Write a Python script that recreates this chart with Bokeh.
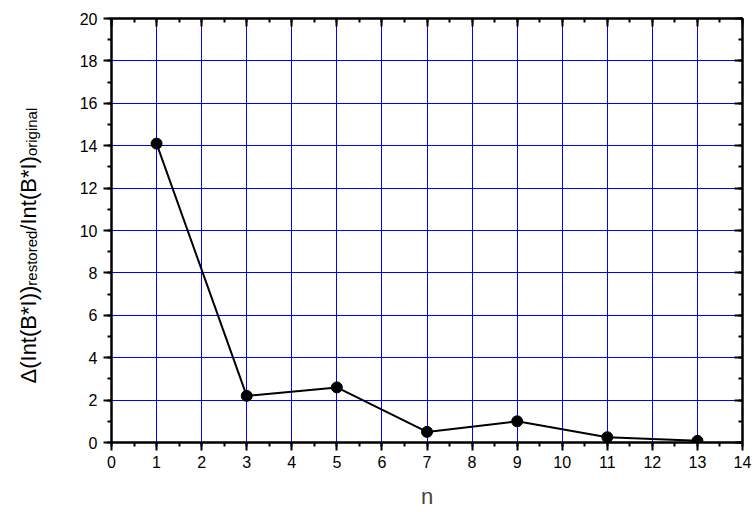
import math
from bokeh.plotting import figure
from bokeh.layouts import row
from bokeh.models import (Range1d, LinearAxis, SingleIntervalTicker, Grid,
                          CustomJSTickFormatter)
from bokeh.core.properties import value
from bokeh.embed import file_html
from bokeh.resources import INLINE

# restoration error vs. harmonic order n
n_values = [1, 3, 5, 7, 9, 11, 13]
delta_ratio = [14.1, 2.2, 2.6, 0.5, 1.0, 0.25, 0.08]

x_ticks_interval = 1
y_ticks_interval = 2

FONT = "Liberation Sans, Arial, sans-serif"
W, H = 756, 512
TITLE_W = 45                      # strip holding the rotated y title
LEFT, RIGHT, TOP, BOTTOM = 111 - TITLE_W, 14, 18, 70
X0, X1, Y0, Y1 = 0, 14, 0, 20

p = figure(width=W - TITLE_W, height=H, output_backend="svg", toolbar_location=None,
           x_range=Range1d(X0, X1), y_range=Range1d(Y0, Y1),
           x_axis_type=None, y_axis_type=None,
           min_border_left=LEFT, min_border_right=RIGHT,
           min_border_top=TOP, min_border_bottom=BOTTOM,
           background_fill_color="white", border_fill_color="white")
p.outline_line_color = "black"
p.outline_line_width = 2


def make_axis(interval, minor, labels, ticks_out):
    ax = LinearAxis(ticker=SingleIntervalTicker(interval=interval, num_minor_ticks=minor))
    ax.axis_line_width = 2
    ax.axis_line_color = "black"
    ax.major_tick_line_width = 2
    ax.minor_tick_line_width = 2
    ax.major_tick_line_color = "black"
    ax.minor_tick_line_color = "black"
    if ticks_out:
        ax.major_tick_out, ax.major_tick_in = 8, 0
        ax.minor_tick_out, ax.minor_tick_in = 4, 0
    else:
        ax.major_tick_out, ax.major_tick_in = 0, 8
        ax.minor_tick_out, ax.minor_tick_in = 0, 4
    if labels:
        ax.major_label_text_font = FONT
        ax.major_label_text_font_size = "16px"
        ax.major_label_text_color = "black"
    else:
        ax.formatter = CustomJSTickFormatter(code="return ''")
        ax.major_label_standoff = 0
    return ax


xb = make_axis(x_ticks_interval, 2, True, True)
xb.major_label_standoff = 5
xb.axis_label = "n"
xb.axis_label_text_font = FONT
xb.axis_label_text_font_size = "22px"
xb.axis_label_text_font_style = "normal"
xb.axis_label_standoff = 13
p.add_layout(xb, "below")

yl = make_axis(y_ticks_interval, 2, True, True)
yl.major_label_standoff = 6
p.add_layout(yl, "left")

p.add_layout(make_axis(x_ticks_interval, 2, False, False), "above")
p.add_layout(make_axis(y_ticks_interval, 2, False, False), "right")

# blue grid at every major tick
for dim, step in ((0, x_ticks_interval), (1, y_ticks_interval)):
    p.add_layout(Grid(dimension=dim, ticker=SingleIntervalTicker(interval=step),
                      grid_line_color="#0000FF", grid_line_width=1))

p.line(n_values, delta_ratio, line_color="black", line_width=2)
p.scatter(n_values, delta_ratio, size=11, fill_color="black", line_color="black")

# rotated y-axis title with subscripts, laid out in pixel space of a narrow strip;
# its frame shares the main plot's top/bottom borders so y maps 1:1 to page pixels
t = figure(width=TITLE_W, height=H, output_backend="svg", toolbar_location=None,
           x_range=Range1d(0, TITLE_W), y_range=Range1d(BOTTOM, H - TOP),
           x_axis_type=None, y_axis_type=None,
           min_border_left=0, min_border_right=0,
           min_border_top=TOP, min_border_bottom=BOTTOM,
           background_fill_color="white", border_fill_color="white")
t.outline_line_color = None
t.grid.visible = False

MAIN, SUB = 22, 15
# advance widths (em) of Arial-metric glyph runs
pieces = [
    ("\u0394(Int(B*I))", MAIN, 4.446, 0),
    ("restored", SUB, 3.668, 3),
    ("/Int(B*I)", MAIN, 3.390, 0),
    ("original", SUB, 3.223, 3),
]
baseline_x = 28
pos = 383                         # page row where the title starts
for txt, size, em, shift in pieces:
    t.text(x=[baseline_x + shift], y=[H - pos], text=[txt], angle=math.pi / 2,
           text_font=value(FONT), text_font_size=value(f"{size}px"),
           text_color="black", text_align="left", text_baseline="alphabetic")
    pos -= em * size

layout = row(t, p, spacing=0)
open("out.html", "w").write(file_html(layout, INLINE))
